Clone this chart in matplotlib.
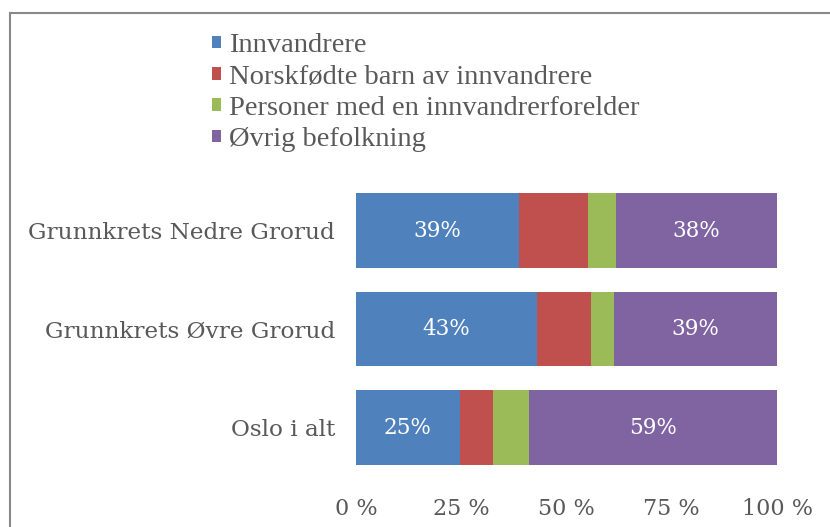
import matplotlib.pyplot as plt
from matplotlib.patches import Rectangle

categories = ["Grunnkrets Nedre Grorud", "Grunnkrets Øvre Grorud", "Oslo i alt"]
innvandrere = [38.7, 43.0, 24.6]
norskfodte = [16.4, 12.8, 8.0]
en_forelder = [6.7, 5.5, 8.6]
ovrig = [38.2, 38.7, 58.8]
series_names = ["Innvandrere", "Norskfødte barn av innvandrere",
                "Personer med en innvandrerforelder", "Øvrig befolkning"]
xticks = [0, 25, 50, 75, 100]
xtick_labels = ["0 %", "25 %", "50 %", "75 %", "100 %"]

colors = ["#4F81BD", "#C0504D", "#9BBB59", "#8064A2"]
grey = "#595959"
font = "DejaVu Serif"

fig = plt.figure(figsize=(8.3, 5.27), dpi=100)
# chart border (top and left visible)
fig.patches.append(Rectangle((10 / 830, -0.1), 1.2, 1.1 - 13 / 527,
                             transform=fig.transFigure, fill=False,
                             edgecolor="#888888", linewidth=1.5))

ax = fig.add_axes([356 / 830, 1 - 476.75 / 527, 421 / 830, 295.5 / 527])

y = range(len(categories))
left = [0] * len(categories)
containers = []
for vals, name, c in zip([innvandrere, norskfodte, en_forelder, ovrig], series_names, colors):
    b = ax.barh(y, vals, left=left, height=0.76, color=c, label=name)
    containers.append(b)
    left = [l + v for l, v in zip(left, vals)]

for idx in [0, 3]:
    vals = [innvandrere, norskfodte, en_forelder, ovrig][idx]
    ax.bar_label(containers[idx], labels=[f"{v:.0f}%" for v in vals], label_type="center",
                 color="white", fontsize=15.5, family=font)

ax.set_xlim(0, 100)
ax.set_ylim(2.5, -0.5)
ax.set_yticks(list(y))
ax.set_yticklabels(categories, fontsize=16.7, family=font, color=grey)
ax.set_xticks(xticks)
ax.set_xticklabels(xtick_labels, fontsize=16, family=font, color=grey)
ax.tick_params(length=0)
ax.tick_params(axis="x", pad=15)
ax.tick_params(axis="y", pad=15)
for s in ax.spines.values():
    s.set_visible(False)

fig.legend(handles=containers, labels=series_names, loc="upper left",
           bbox_to_anchor=(201 / 830, 1 - 22 / 527), frameon=False,
           prop={"family": "Liberation Serif", "size": 20.5}, labelcolor=grey,
           handlelength=0.3, handleheight=0.3, handletextpad=0.3,
           labelspacing=0.22, borderaxespad=0)

fig.savefig("out.png", dpi=100)
